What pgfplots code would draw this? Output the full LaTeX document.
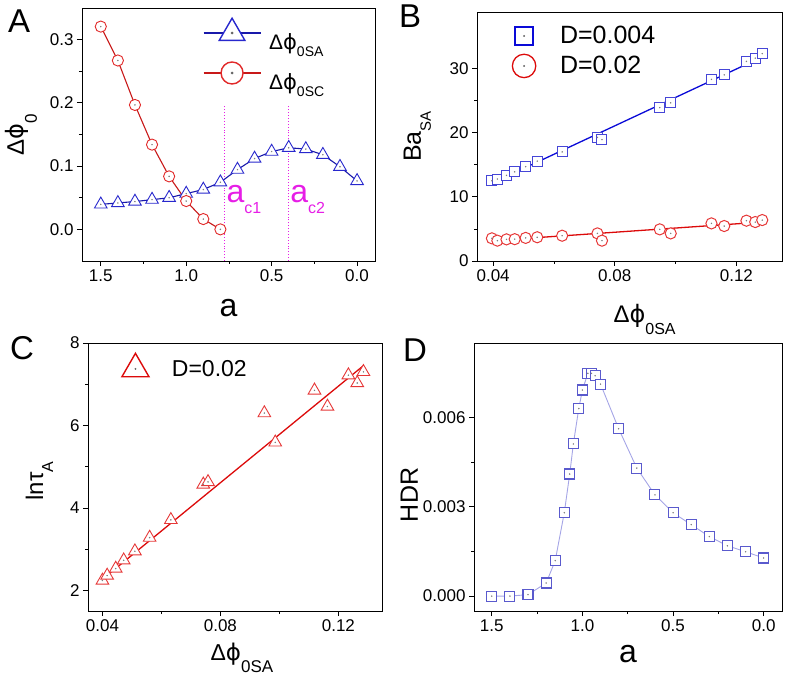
\documentclass[border=0pt]{standalone}
\usepackage{pgfplots}
\usepackage{pgfplotstable}
\pgfplotsset{compat=1.18}
\usepackage{fontspec}
\setmainfont{Liberation Sans}
\newfontfamily\dv{DejaVu Sans}

\definecolor{aline}{RGB}{25,25,170}
\definecolor{amark}{RGB}{40,40,205}
\definecolor{ared}{RGB}{225,40,40}
\definecolor{aredl}{RGB}{200,25,25}
\definecolor{bblue}{RGB}{70,70,215}
\definecolor{bbluel}{RGB}{10,10,215}
\definecolor{bred}{RGB}{230,55,55}
\definecolor{bredl}{RGB}{220,10,10}
\definecolor{dsq}{RGB}{90,90,205}
\definecolor{dline}{RGB}{165,165,230}
\definecolor{mag}{RGB}{230,30,230}

\newcommand{\fs}[1]{\fontsize{#1}{#1}\selectfont}
\newcommand{\ph}{{\dv ϕ}}

\pgfplotstableread{
a y
1.5 0.0395
1.4 0.0418
1.3 0.0440
1.2 0.0470
1.1 0.0500
1.0 0.0565
0.9 0.0630
0.8 0.0745
0.7 0.0945
0.6 0.1120
0.5 0.1230
0.4 0.1290
0.3 0.1270
0.2 0.1180
0.1 0.0990
0.0 0.0766
}\tabAsa

\pgfplotstableread{
a y
1.5 0.3206
1.4 0.2670
1.3 0.1967
1.2 0.1340
1.1 0.0838
1.0 0.0448
0.9 0.0163
0.8 0.0000
}\tabAsc

\pgfplotstableread{
x b r
0.0396 12.50 3.53
0.0414 12.77 3.17
0.0444 13.34 3.37
0.0471 13.90 3.40
0.0507 14.70 3.60
0.0545 15.57 3.70
0.0627 17.00 3.94
0.0743 19.25 4.30
0.0758 18.90 3.17
0.0948 23.90 4.93
0.0984 24.65 4.30
0.1118 28.30 5.86
0.1160 29.00 5.45
0.1233 31.10 6.28
0.1262 31.60 6.07
0.1285 32.30 6.38
}\tabB

\pgfplotstableread{
x y
0.0400 2.24
0.0416 2.36
0.0445 2.53
0.0472 2.73
0.0510 2.95
0.0560 3.28
0.0632 3.71
0.0742 4.57
0.0758 4.63
0.0949 6.30
0.0986 5.59
0.1119 6.85
0.1163 6.46
0.1234 7.22
0.1264 7.03
0.1285 7.30
}\tabC

\pgfplotstableread{
a y
1.50 0.00000
1.40 0.00000
1.30 0.00005
1.20 0.00044
1.15 0.00119
1.10 0.00280
1.07 0.00410
1.05 0.00511
1.02 0.00630
1.00 0.00692
0.97 0.00748
0.95 0.00748
0.93 0.00740
0.90 0.00712
0.80 0.00562
0.70 0.00430
0.60 0.00340
0.50 0.00280
0.40 0.00240
0.30 0.00200
0.20 0.00169
0.10 0.00149
0.00 0.00128
}\tabD

\pgfplotsset{
  myax/.style={
    scale only axis,
    anchor=south west,
    axis line style={black, line width=0.8pt},
    tick align=outside,
    xtick pos=bottom, ytick pos=left,
    major tick length=5pt, minor tick length=3pt,
    every tick/.style={black, line width=0.8pt},
    minor x tick num=1, minor y tick num=1,
    scaled ticks=false,
    tick label style={font=\fs{17}},
    /pgf/number format/assume math mode=true,
    legend style={draw=none, fill=none, inner sep=0pt, outer sep=0pt,
      nodes={inner sep=0pt, outer sep=0pt}, cells={anchor=west}},
  },
}

\begin{document}
\begin{tikzpicture}[x=1pt,y=1pt]
\path[use as bounding box] (0,0) rectangle (786,677);

% ---------------- Panel A
\begin{axis}[myax, at={(82pt,416pt)}, width=293pt, height=253pt,
  x dir=reverse, xmin=-0.105, xmax=1.61, ymin=-0.05, ymax=0.35,
  xtick={0,0.5,1,1.5}, ytick={0,0.1,0.2,0.3},
  x tick label style={/pgf/number format/.cd, fixed, fixed zerofill, precision=1},
  y tick label style={/pgf/number format/.cd, fixed, fixed zerofill, precision=1},
  xlabel={a},
  xlabel style={at={(axis description cs:0.5,-0.22)}, anchor=base, font=\fs{32}},
  ylabel={Δ\ph\raisebox{-13pt}{\fs{17}0}},
  ylabel style={at={(axis description cs:-0.198,0.5)}, anchor=base, font=\fs{24}},
  legend style={at={(axis description cs:0.413,0.9605)}, anchor=north west,
    row sep=10pt, column sep=8pt, font=\fs{21}},
  legend image code/.code={
    \path[draw=none, fill=none] (0pt,-15pt) rectangle (57pt,15pt);
    \draw[mark repeat=2, mark phase=2, #1] plot coordinates {(0pt,0pt) (28.5pt,0pt) (57pt,0pt)};
    \fill[black!60] (28.5pt,0pt) circle (0.7pt);
  },
]
\addplot[mag, dotted, line width=0.9pt, forget plot] coordinates {(0.775,-0.05) (0.775,0.195)};
\addplot[mag, dotted, line width=0.9pt, forget plot] coordinates {(0.40,-0.05) (0.40,0.195)};
\addplot[aline, line width=1.1pt, mark=triangle*, mark size=7.3pt,
  mark options={solid, fill=white, draw=amark, line width=0.9pt},
  legend image post style={mark size=14.8pt, mark options={solid, fill=white, draw=amark, line width=1.4pt}}]
  table[x=a, y=y] {\tabAsa};
\addlegendentry{\raisebox{-17.5pt}[0pt][0pt]{Δ\ph\raisebox{-7pt}{\fs{14}0SA}}}
\addplot[aredl, line width=1.1pt, mark=*, mark size=5.6pt,
  mark options={solid, fill=white, draw=ared, line width=0.9pt},
  legend image post style={mark size=11pt, mark options={solid, fill=white, draw=ared, line width=1.4pt}}]
  table[x=a, y=y] {\tabAsc};
\addlegendentry{\raisebox{-17.5pt}[0pt][0pt]{Δ\ph\raisebox{-7pt}{\fs{14}0SC}}}
\addplot[only marks, mark=*, mark size=0.5pt, black!50, forget plot] table[x=a, y=y] {\tabAsa};
\addplot[only marks, mark=*, mark size=0.5pt, black!50, forget plot] table[x=a, y=y] {\tabAsc};
\node[anchor=base west, inner sep=0pt, text=mag, font=\fs{32}] at (axis cs:0.765,0.042)
  {a\raisebox{-11pt}{\fs{16}c1}};
\node[anchor=base west, inner sep=0pt, text=mag, font=\fs{32}] at (axis cs:0.392,0.042)
  {a\raisebox{-11pt}{\fs{16}c2}};
\end{axis}

% ---------------- Panel B
\begin{axis}[myax, at={(477pt,416pt)}, width=305pt, height=249pt,
  xmin=0.0347, xmax=0.135, ymin=0, ymax=38.8,
  xtick={0.04,0.08,0.12}, ytick={0,10,20,30},
  x tick label style={/pgf/number format/.cd, fixed, fixed zerofill, precision=2},
  xlabel={Δ\ph\raisebox{-12pt}{\fs{16}0SA}},
  xlabel style={at={(axis description cs:0.436,-0.249)}, anchor=base west, font=\fs{24}},
  ylabel={Ba\raisebox{-10pt}{\fs{15}SA}},
  ylabel style={at={(axis description cs:-0.184,0.5)}, anchor=base, font=\fs{25}},
  legend style={at={(axis description cs:0.115,0.952)}, anchor=north west,
    row sep=6pt, column sep=24pt, font=\fs{25}},
  legend image code/.code={
    \path[draw=none, fill=none] (-12pt,-12pt) rectangle (12pt,12pt);
    \draw[#1] plot coordinates {(0pt,0pt)};
    \fill[black!60] (0pt,0pt) circle (0.7pt);
  },
]
\addplot[only marks, mark=square*, mark size=5pt,
  mark options={fill=white, draw=bblue, line width=1pt},
  legend image post style={mark size=9pt, mark options={fill=white, draw=bbluel, line width=1.3pt}}]
  table[x=x, y=b] {\tabB};
\addlegendentry{D=0.004}
\addplot[only marks, mark=*, mark size=5.6pt,
  mark options={fill=white, draw=bred, line width=1pt},
  legend image post style={mark size=11.7pt, mark options={fill=white, draw=bredl, line width=1.3pt}}]
  table[x=x, y=r] {\tabB};
\addlegendentry{D=0.02}
\addplot[bbluel, line width=1.3pt, forget plot] coordinates {(0.040,12.2) (0.1285,31.8)};
\addplot[bredl, line width=1.3pt, forget plot] coordinates {(0.040,3.17) (0.1285,6.07)};
\addplot[only marks, mark=*, mark size=0.5pt, black!50, forget plot] table[x=x, y=b] {\tabB};
\addplot[only marks, mark=*, mark size=0.5pt, black!50, forget plot] table[x=x, y=r] {\tabB};
\end{axis}

% ---------------- Panel C
\begin{axis}[myax, at={(88pt,66pt)}, width=294pt, height=268pt,
  xmin=0.0351, xmax=0.1348, ymin=1.5, ymax=8,
  xtick={0.04,0.08,0.12}, ytick={2,4,6,8},
  x tick label style={/pgf/number format/.cd, fixed, fixed zerofill, precision=2},
  xlabel={Δ\ph\raisebox{-12pt}{\fs{17}0SA}},
  xlabel style={at={(axis description cs:0.405,-0.183)}, anchor=base west, font=\fs{23}},
  ylabel={lnτ\raisebox{-10pt}{\fs{16}A}},
  ylabel style={at={(axis description cs:-0.153,0.485)}, anchor=base, font=\fs{24}},
  legend style={at={(axis description cs:0.107,0.963)}, anchor=north west,
    column sep=20.5pt, font=\fs{23}},
  legend image code/.code={
    \path[draw=none, fill=none] (-16pt,-16pt) rectangle (16pt,16pt);
    \draw[#1] plot coordinates {(0pt,0pt)};
    \fill[black!60] (0pt,0pt) circle (0.7pt);
  },
]
\addplot[only marks, mark=triangle*, mark size=7.3pt,
  mark options={fill=white, draw=bred, line width=0.9pt},
  legend image post style={mark size=15.6pt, mark options={fill=white, draw=bredl, line width=1.4pt}}]
  table[x=x, y=y] {\tabC};
\addlegendentry{D=0.02}
\addplot[bredl, line width=1.3pt, forget plot] coordinates {(0.040,2.27) (0.1285,7.45)};
\addplot[only marks, mark=*, mark size=0.5pt, black!50, forget plot] table[x=x, y=y] {\tabC};
\end{axis}

% ---------------- Panel D
\begin{axis}[myax, at={(474pt,66pt)}, width=308pt, height=268pt,
  x dir=reverse, xmin=-0.101, xmax=1.598, ymin=-0.0005, ymax=0.0085,
  xtick={0,0.5,1,1.5}, ytick={0,0.003,0.006},
  x tick label style={/pgf/number format/.cd, fixed, fixed zerofill, precision=1},
  y tick label style={/pgf/number format/.cd, fixed, fixed zerofill, precision=3},
  xlabel={a},
  xlabel style={at={(axis description cs:0.5,-0.194)}, anchor=base, font=\fs{32}},
  ylabel={HDR},
  ylabel style={at={(axis description cs:-0.182,0.433)}, anchor=base, font=\fs{25}},
]
\addplot[dline, line width=0.9pt, mark=square*, mark size=5pt,
  mark options={solid, fill=white, draw=dsq, line width=1.1pt}]
  table[x=a, y=y] {\tabD};
\addplot[only marks, mark=*, mark size=0.5pt, black!50, forget plot] table[x=a, y=y] {\tabD};
\end{axis}

% panel letters
\node[anchor=base west, inner sep=0pt, font=\fs{33}] at (8,644) {A};
\node[anchor=base west, inner sep=0pt, font=\fs{33}] at (399,649) {B};
\node[anchor=base west, inner sep=0pt, font=\fs{33}] at (10,317) {C};
\node[anchor=base west, inner sep=0pt, font=\fs{33}] at (403,315) {D};
\end{tikzpicture}
\end{document}
